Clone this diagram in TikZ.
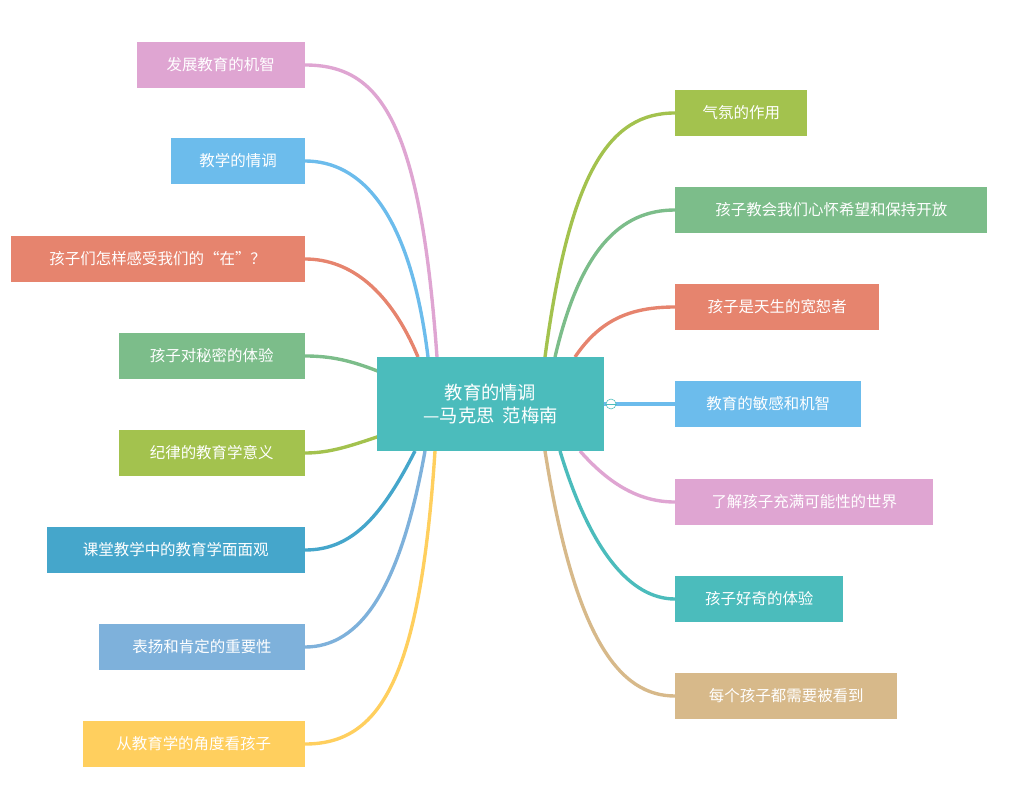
\documentclass[tikz,border=0pt]{standalone}
\usepackage{fontspec}
\setmainfont{Noto Sans CJK SC}
\usetikzlibrary{backgrounds}
\definecolor{cpink}{HTML}{DFA5D2}
\definecolor{cblue}{HTML}{6CBCEC}
\definecolor{csalmon}{HTML}{E6846E}
\definecolor{cgreen}{HTML}{7CBD8A}
\definecolor{cyg}{HTML}{A3C24E}
\definecolor{cdblue}{HTML}{45A6CB}
\definecolor{csteel}{HTML}{7EB1DB}
\definecolor{cyellow}{HTML}{FFCF5E}
\definecolor{cteal}{HTML}{4BBCBC}
\definecolor{ctan}{HTML}{D7B98A}
\begin{document}
\begin{tikzpicture}[x=0.025cm, y=-0.025cm, line cap=round,
	topic/.style={rectangle, text=white, font=\fontsize{11}{13}\selectfont, minimum height=1.15cm, inner sep=0pt},
	branch/.style={line width=2.4pt}]
	\useasboundingbox (0,0) rectangle (1024,787);
	% center
	\node [rectangle, fill=cteal, text=white, align=center, minimum width=5.675cm, minimum height=2.35cm,
		font=\fontsize{13}{16}\selectfont] (root) at (490.5,404) {教育的情调\\---马克思\ \ 范梅南};

	% left side
	\node [topic, fill=cpink,   anchor=east, minimum width=4.2cm]  (l1) at (305,65)  {发展教育的机智};
	\node [topic, fill=cblue,   anchor=east, minimum width=3.33cm] (l2) at (305,161) {教学的情调};
	\node [topic, fill=csalmon, anchor=east, minimum width=7.35cm] (l3) at (305,259) {孩子们怎样感受我们的“在”？};
	\node [topic, fill=cgreen,  anchor=east, minimum width=4.65cm] (l4) at (305,356) {孩子对秘密的体验};
	\node [topic, fill=cyg,     anchor=east, minimum width=4.65cm] (l5) at (305,453) {纪律的教育学意义};
	\node [topic, fill=cdblue,  anchor=east, minimum width=6.45cm] (l6) at (305,550) {课堂教学中的教育学面面观};
	\node [topic, fill=csteel,  anchor=east, minimum width=5.13cm] (l7) at (305,647) {表扬和肯定的重要性};
	\node [topic, fill=cyellow, anchor=east, minimum width=5.55cm] (l8) at (305,744) {从教育学的角度看孩子};

	% right side
	\node [topic, fill=cyg,     anchor=west, minimum width=3.3cm]  (r1) at (675,113) {气氛的作用};
	\node [topic, fill=cgreen,  anchor=west, minimum width=7.8cm]  (r2) at (675,210) {孩子教会我们心怀希望和保持开放};
	\node [topic, fill=csalmon, anchor=west, minimum width=5.1cm]  (r3) at (675,307) {孩子是天生的宽恕者};
	\node [topic, fill=cblue,   anchor=west, minimum width=4.65cm] (r4) at (675,404) {教育的敏感和机智};
	\node [topic, fill=cpink,   anchor=west, minimum width=6.45cm] (r5) at (675,502) {了解孩子充满可能性的世界};
	\node [topic, fill=cteal,   anchor=west, minimum width=4.2cm]  (r6) at (675,599) {孩子好奇的体验};
	\node [topic, fill=ctan,    anchor=west, minimum width=5.55cm] (r7) at (675,696) {每个孩子都需要被看到};

	% branches
	\begin{scope}[on background layer]
	\draw [branch, cpink]   (437,357) .. controls (420,120) and (380,65) .. (l1.east);
	\draw [branch, cblue]   (428,357) .. controls (410,210) and (360,161) .. (l2.east);
	\draw [branch, csalmon] (418,357) .. controls (390,290) and (350,259) .. (l3.east);
	\draw [branch, cgreen]  (380,372) .. controls (350,360) and (330,356) .. (l4.east);
	\draw [branch, cyg]     (380,436) .. controls (350,446) and (330,453) .. (l5.east);
	\draw [branch, cdblue]  (415,451) .. controls (380,520) and (350,550) .. (l6.east);
	\draw [branch, csteel]  (425,451) .. controls (400,590) and (360,647) .. (l7.east);
	\draw [branch, cyellow] (435,451) .. controls (420,680) and (380,744) .. (l8.east);
	\draw [branch, cyg]     (545,357) .. controls (570,170) and (610,113) .. (r1.west);
	\draw [branch, cgreen]  (555,357) .. controls (580,250) and (620,210) .. (r2.west);
	\draw [branch, csalmon] (575,357) .. controls (600,320) and (630,307) .. (r3.west);
	\draw [branch, cblue]   (root.east) -- (r4.west);
	\draw [branch, cpink]   (580,451) .. controls (610,485) and (640,502) .. (r5.west);
	\draw [branch, cteal]   (560,451) .. controls (590,550) and (630,599) .. (r6.west);
	\draw [branch, ctan]    (545,451) .. controls (575,640) and (620,696) .. (r7.west);
	\end{scope}
	\node [circle, draw=cteal, fill=white, inner sep=0pt, minimum size=0.25cm] (fold) at (611,404) {};
	\draw [cteal, line width=0.5pt] (fold.west) -- (fold.east);
\end{tikzpicture}
\end{document}
